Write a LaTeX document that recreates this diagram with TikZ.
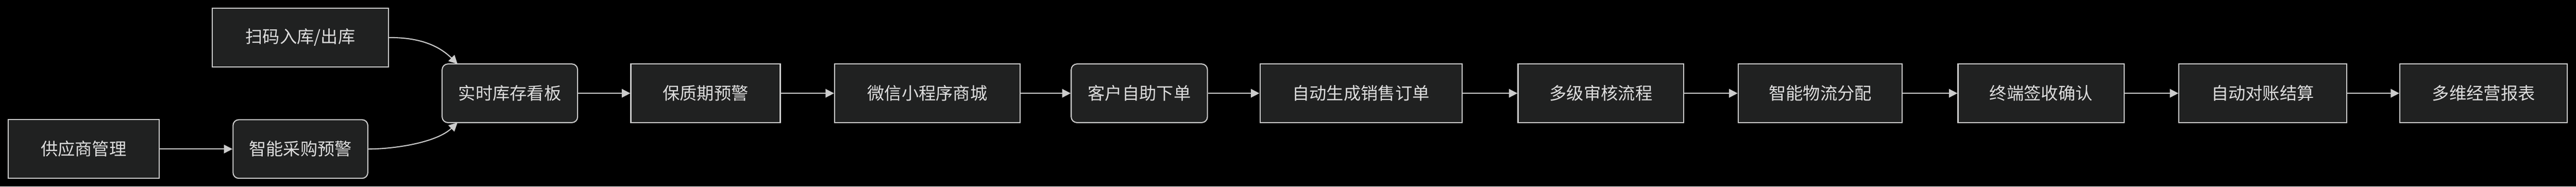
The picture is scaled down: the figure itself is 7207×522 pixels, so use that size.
\documentclass[tikz,border=0pt]{standalone}
\usepackage{fontspec}
\setmainfont{Noto Sans CJK SC}
\usetikzlibrary{arrows.meta}
\definecolor{boxfill}{HTML}{202121}
\definecolor{boxline}{HTML}{CCCCCC}
\definecolor{txt}{HTML}{DDDDDD}
\begin{document}
\begin{tikzpicture}[x=1pt,y=-1pt,
  box/.style={draw=boxline,fill=boxfill,line width=3pt,text=txt,inner sep=0pt,minimum height=164pt,font=\fontsize{48}{54}\selectfont},
  rbox/.style={box,rounded corners=16pt},
  conn/.style={draw=boxline,line width=3pt,-{Triangle[length=24pt,width=24pt]}}]
\fill[black] (0,0) rectangle (7207,522);
\useasboundingbox (0,0) rectangle (7207,522);
\node[box,minimum width=493pt] (scan) at (840.5,105) {扫码入库/出库};
\node[box,minimum width=422pt] (sup) at (234,417) {供应商管理};
\node[rbox,minimum width=377pt] (ipw) at (840.5,417) {智能采购预警};
\node[rbox,minimum width=379pt] (rt) at (1426.5,261) {实时库存看板};
\node[box,minimum width=418pt] (b1) at (1974,261) {保质期预警};
\node[box,minimum width=519pt] (b2) at (2594.5,261) {微信小程序商城};
\node[rbox,minimum width=381pt] (b3) at (3187.5,261) {客户自助下单};
\node[box,minimum width=565pt] (b4) at (3807.5,261) {自动生成销售订单};
\node[box,minimum width=464pt] (b5) at (4479,261) {多级审核流程};
\node[box,minimum width=459pt] (b6) at (5092.5,261) {智能物流分配};
\node[box,minimum width=465pt] (b7) at (5710.5,261) {终端签收确认};
\node[box,minimum width=469pt] (b8) at (6330.5,261) {自动对账结算};
\node[box,minimum width=469pt] (b9) at (6948.5,261) {多维经营报表};
\coordinate (rtT) at (1280,179);
\coordinate (rtB) at (1280,343);
\draw[conn] (scan.east) .. controls (1160,105) and (1220,120) .. (rtT);
\draw[conn] (ipw.east) .. controls (1100,417) and (1220,400) .. (rtB);
\draw[conn] (sup) -- (ipw);
\draw[conn] (rt) -- (b1);
\draw[conn] (b1) -- (b2);
\draw[conn] (b2) -- (b3);
\draw[conn] (b3) -- (b4);
\draw[conn] (b4) -- (b5);
\draw[conn] (b5) -- (b6);
\draw[conn] (b6) -- (b7);
\draw[conn] (b7) -- (b8);
\draw[conn] (b8) -- (b9);
\end{tikzpicture}
\end{document}
